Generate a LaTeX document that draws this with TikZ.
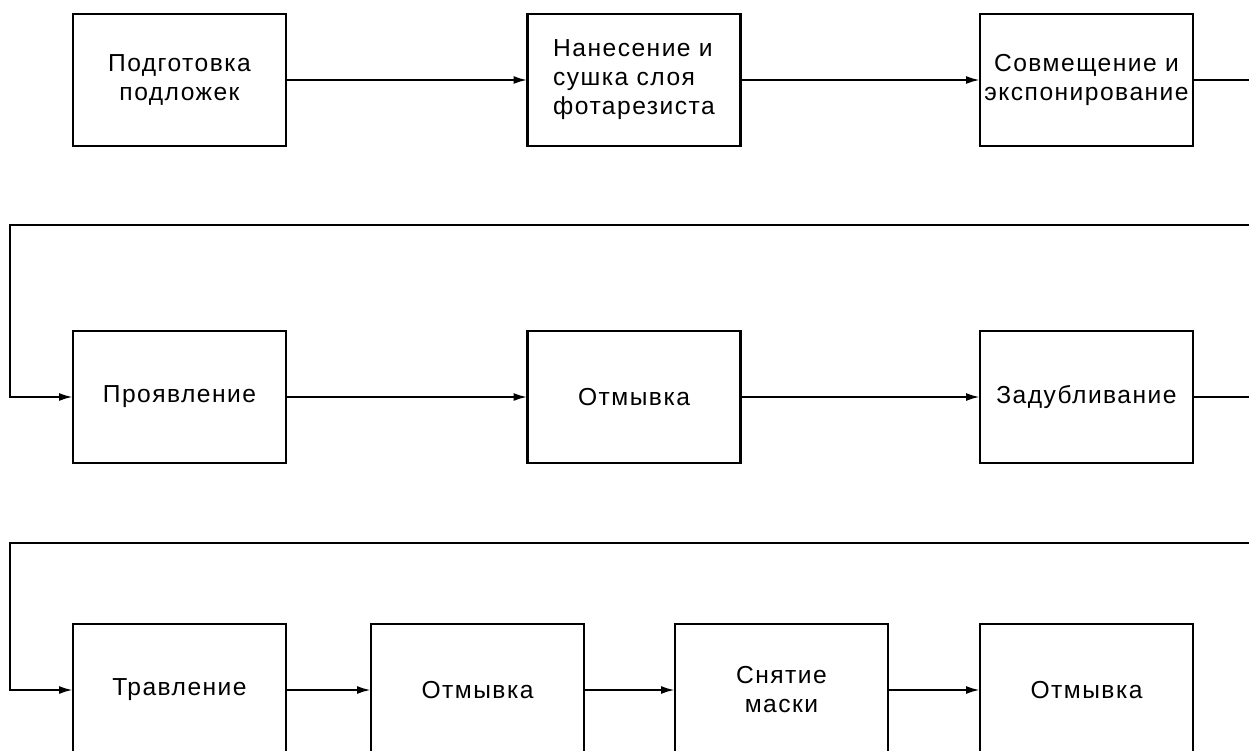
\documentclass[tikz,border=0pt]{standalone}
\usepackage{fontspec}
\setmainfont{Liberation Sans}[LetterSpace=6]
\usetikzlibrary{arrows.meta}

\begin{document}
\begin{tikzpicture}[x=0.02cm, y=-0.02cm,
    box/.style={draw, line width=1.3pt, minimum width=4.26cm, minimum height=2.64cm,
      inner sep=0pt, outer sep=0pt, align=center, font=\fontsize{14pt}{16.5pt}\selectfont},
    arr/.style={line width=1.3pt, -{Latex[length=2.8mm,width=1.6mm]}},
    ln/.style={line width=1.3pt}]
    \useasboundingbox (0,0) rectangle (1249,751);
    \clip (0,0) rectangle (1249,751);
    \node[box] (A) at (179.5,80) {Подготовка\\подложек};
    \node[box, align=left] (B) at (634,80) {Нанесение и\\сушка слоя\\фотарезиста};
    \node[box] (C) at (1086.5,80) {Совмещение и\\экспонирование};
    \node[box] (D) at (179.5,397) {Проявление};
    \node[box] (E) at (634,397) {Отмывка};
    \node[box] (F) at (1086.5,397) {Задубливание};
    \node[box] (G) at (179.5,690) {Травление};
    \node[box] (H) at (477.5,690) {Отмывка};
    \node[box] (I) at (781.5,690) {Снятие\\маски};
    \node[box] (J) at (1086.5,690) {Отмывка};
    \coordinate (e1) at (1249,80);
    \coordinate (r1) at (1249,225);
    \coordinate (w1) at (10,225);
    \coordinate (e2) at (1249,397);
    \coordinate (r2) at (1249,543);
    \coordinate (w2) at (10,543);
    \draw[arr] (A) -- (B);
    \draw[arr] (B) -- (C);
    \draw[ln] (C) -- (e1);
    \draw[arr] (r1) -- (w1) |- (D);
    \draw[arr] (D) -- (E);
    \draw[arr] (E) -- (F);
    \draw[ln] (F) -- (e2);
    \draw[arr] (r2) -- (w2) |- (G);
    \draw[arr] (G) -- (H);
    \draw[arr] (H) -- (I);
    \draw[arr] (I) -- (J);
\end{tikzpicture}
\end{document}
